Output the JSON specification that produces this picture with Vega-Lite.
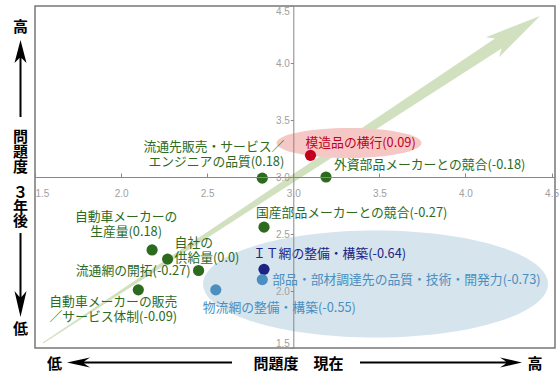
{
  "$schema": "https://vega.github.io/schema/vega-lite/v6.json",
  "width": 520,
  "height": 342,
  "autosize": {"type": "none"},
  "padding": {"left": 35, "top": 6, "right": 5, "bottom": 32},
  "background": "white",
  "config": {
    "view": {"stroke": "#777", "strokeWidth": 1.5},
    "text": {"font": "Noto Sans CJK JP", "fontSize": 12.8, "lineHeight": 15, "baseline": "middle", "lineBreak": "\n"}
  },
  "datasets": {
    "items": [
      {"item": "流通先販売・サービス／エンジニアの品質", "label": "流通先販売・サービス／\nエンジニアの品質(0.18)", "change": 0.18, "now": 2.82, "future": 2.99, "type": "市場"},
      {"item": "模造品の横行", "label": "模造品の横行(0.09)", "change": 0.09, "now": 3.10, "future": 3.19, "type": "模造品"},
      {"item": "外資部品メーカーとの競合", "label": "外資部品メーカーとの競合(-0.18)", "change": -0.18, "now": 3.19, "future": 3.00, "type": "市場"},
      {"item": "国産部品メーカーとの競合", "label": "国産部品メーカーとの競合(-0.27)", "change": -0.27, "now": 2.83, "future": 2.56, "type": "市場"},
      {"item": "ＩＴ網の整備・構築", "label": "ＩＴ網の整備・構築(-0.64)", "change": -0.64, "now": 2.83, "future": 2.19, "type": "IT"},
      {"item": "部品・部材調達先の品質・技術・開発力", "label": "部品・部材調達先の品質・技術・開発力(-0.73)", "change": -0.73, "now": 2.82, "future": 2.10, "type": "調達・物流"},
      {"item": "物流網の整備・構築", "label": "物流網の整備・構築(-0.55)", "change": -0.55, "now": 2.55, "future": 2.01, "type": "調達・物流"},
      {"item": "自動車メーカーの生産量", "label": "自動車メーカーの\n生産量(0.18)", "change": 0.18, "now": 2.18, "future": 2.36, "type": "市場"},
      {"item": "自社の供給量", "label": "自社の\n供給量(0.0)", "change": 0.0, "now": 2.27, "future": 2.28, "type": "市場"},
      {"item": "流通網の開拓", "label": "流通網の開拓(-0.27)", "change": -0.27, "now": 2.45, "future": 2.18, "type": "市場"},
      {"item": "自動車メーカーの販売／サービス体制", "label": "自動車メーカーの販売\n／サービス体制(-0.09)", "change": -0.09, "now": 2.10, "future": 2.01, "type": "市場"}
    ]
  },
  "data": {"name": "items"},
  "layer": [
    {
      "mark": {"type": "point", "filled": true, "size": 125, "opacity": 0},
      "encoding": {
        "x": {"field": "now", "type": "quantitative", "scale": {"domain": [1.5, 4.52], "nice": false, "zero": false},
          "axis": {"title": null, "offset": -171, "values": [1.5, 2, 2.5, 3, 3.5, 4, 4.5], "format": ".1f", "tickSize": -4, "tickColor": "#888", "domainColor": "#888", "labelColor": "#a0a0a0", "labelFontSize": 10, "labelFont": "Liberation Sans", "labelPadding": 15, "labelFlush": true, "labelOverlap": false, "grid": false, "zindex": 1}},
        "y": {"field": "future", "type": "quantitative", "scale": {"domain": [1.5, 4.5], "nice": false, "zero": false},
          "axis": {"title": null, "orient": "left", "offset": -258.3, "values": [1.5, 2, 2.5, 3, 3.5, 4, 4.5], "format": ".1f", "tickSize": 3, "tickColor": "#888", "domainColor": "#888", "labelColor": "#a0a0a0", "labelFontSize": 10, "labelFont": "Liberation Sans", "labelAlign": "right", "labelPadding": 1, "labelFlush": true, "labelOverlap": false, "grid": false, "zindex": 1}}
      }
    },
    {
      "data": {"values": [{}]},
      "mark": {"type": "point", "shape": "M-1,-0.0017L0.832,-0.0202L0.8084,-0.0403L1,0L0.8084,0.0403L0.832,0.0202L-1,0.0017Z", "size": 354025, "angle": 326.66, "filled": true, "fill": "#d1e1c0", "opacity": 1, "strokeWidth": 0},
      "encoding": {
        "x": {"datum": 2.9897, "type": "quantitative"},
        "y": {"datum": 2.9781, "type": "quantitative"}
      }
    },
    {
      "data": {"values": [{}]},
      "mark": {"type": "point", "shape": "M-1,0A1,0.207,0,1,0,1,0A1,0.207,0,1,0,-1,0Z", "size": 21025, "filled": true, "fill": "#f5c8c6", "opacity": 1, "strokeWidth": 0},
      "encoding": {
        "x": {"datum": 3.3236, "type": "quantitative"},
        "y": {"datum": 3.2982, "type": "quantitative"}
      }
    },
    {
      "data": {"values": [{}]},
      "mark": {"type": "point", "shape": "M-1,0A1,0.31,0,1,0,1,0A1,0.31,0,1,0,-1,0Z", "size": 119025, "filled": true, "fill": "#d6e4ed", "opacity": 1, "strokeWidth": 0},
      "encoding": {
        "x": {"datum": 3.4775, "type": "quantitative"},
        "y": {"datum": 2.0614, "type": "quantitative"}
      }
    },
    {
      "transform": [{"filter": {"field": "item", "equal": "流通先販売・サービス／エンジニアの品質"}}],
      "mark": {"type": "text", "align": "right", "dx": 22, "dy": -31.5},
      "encoding": {
        "x": {"field": "now", "type": "quantitative"},
        "y": {"field": "future", "type": "quantitative"},
        "text": {"field": "label"},
        "color": {"field": "type", "type": "nominal", "legend": null}
      }
    },
    {
      "transform": [{"filter": {"field": "item", "equal": "模造品の横行"}}],
      "mark": {"type": "text", "align": "left", "dx": -5, "dy": -12},
      "encoding": {
        "x": {"field": "now", "type": "quantitative"},
        "y": {"field": "future", "type": "quantitative"},
        "text": {"field": "label"},
        "color": {"field": "type", "type": "nominal", "legend": null}
      }
    },
    {
      "transform": [{"filter": {"field": "item", "equal": "外資部品メーカーとの競合"}}],
      "mark": {"type": "text", "align": "left", "dx": 8, "dy": -12},
      "encoding": {
        "x": {"field": "now", "type": "quantitative"},
        "y": {"field": "future", "type": "quantitative"},
        "text": {"field": "label"},
        "color": {"field": "type", "type": "nominal", "legend": null}
      }
    },
    {
      "transform": [{"filter": {"field": "item", "equal": "国産部品メーカーとの競合"}}],
      "mark": {"type": "text", "align": "left", "dx": -8, "dy": -14},
      "encoding": {
        "x": {"field": "now", "type": "quantitative"},
        "y": {"field": "future", "type": "quantitative"},
        "text": {"field": "label"},
        "color": {"field": "type", "type": "nominal", "legend": null}
      }
    },
    {
      "transform": [{"filter": {"field": "item", "equal": "ＩＴ網の整備・構築"}}],
      "mark": {"type": "text", "align": "left", "dx": -11, "dy": -15},
      "encoding": {
        "x": {"field": "now", "type": "quantitative"},
        "y": {"field": "future", "type": "quantitative"},
        "text": {"field": "label"},
        "color": {"field": "type", "type": "nominal", "legend": null}
      }
    },
    {
      "transform": [{"filter": {"field": "item", "equal": "部品・部材調達先の品質・技術・開発力"}}],
      "mark": {"type": "text", "align": "left", "dx": 10, "dy": 0},
      "encoding": {
        "x": {"field": "now", "type": "quantitative"},
        "y": {"field": "future", "type": "quantitative"},
        "text": {"field": "label"},
        "color": {"field": "type", "type": "nominal", "legend": null}
      }
    },
    {
      "transform": [{"filter": {"field": "item", "equal": "物流網の整備・構築"}}],
      "mark": {"type": "text", "align": "left", "dx": -13, "dy": 18},
      "encoding": {
        "x": {"field": "now", "type": "quantitative"},
        "y": {"field": "future", "type": "quantitative"},
        "text": {"field": "label"},
        "color": {"field": "type", "type": "nominal", "legend": null}
      }
    },
    {
      "transform": [{"filter": {"field": "item", "equal": "自動車メーカーの生産量"}}],
      "mark": {"type": "text", "align": "center", "dx": -26, "dy": -32.5},
      "encoding": {
        "x": {"field": "now", "type": "quantitative"},
        "y": {"field": "future", "type": "quantitative"},
        "text": {"field": "label"},
        "color": {"field": "type", "type": "nominal", "legend": null}
      }
    },
    {
      "transform": [{"filter": {"field": "item", "equal": "自社の供給量"}}],
      "mark": {"type": "text", "align": "left", "dx": 7, "dy": -16.5},
      "encoding": {
        "x": {"field": "now", "type": "quantitative"},
        "y": {"field": "future", "type": "quantitative"},
        "text": {"field": "label"},
        "color": {"field": "type", "type": "nominal", "legend": null}
      }
    },
    {
      "transform": [{"filter": {"field": "item", "equal": "流通網の開拓"}}],
      "mark": {"type": "text", "align": "right", "dx": -8, "dy": 1},
      "encoding": {
        "x": {"field": "now", "type": "quantitative"},
        "y": {"field": "future", "type": "quantitative"},
        "text": {"field": "label"},
        "color": {"field": "type", "type": "nominal", "legend": null}
      }
    },
    {
      "transform": [{"filter": {"field": "item", "equal": "自動車メーカーの販売／サービス体制"}}],
      "mark": {"type": "text", "align": "center", "dx": -25, "dy": 12.5},
      "encoding": {
        "x": {"field": "now", "type": "quantitative"},
        "y": {"field": "future", "type": "quantitative"},
        "text": {"field": "label"},
        "color": {"field": "type", "type": "nominal", "legend": null}
      }
    },
    {
      "mark": {"type": "point", "filled": true, "size": 125, "opacity": 1},
      "encoding": {
        "x": {"field": "now", "type": "quantitative"},
        "y": {"field": "future", "type": "quantitative"},
        "color": {"field": "type", "type": "nominal", "scale": {"domain": ["市場", "模造品", "IT", "調達・物流"], "range": ["#2c6b1e", "#c2001c", "#1b2385", "#4a8fbf"]}, "legend": null},
        "tooltip": [{"field": "item"}, {"field": "change"}]
      }
    },
    {
      "data": {"values": [{}]},
      "mark": {"type": "text", "text": "高", "fontSize": 15, "fontWeight": "bold", "color": "#000", "align": "center"},
      "encoding": {
        "x": {"datum": 1.4158, "type": "quantitative"},
        "y": {"datum": 4.3158, "type": "quantitative"}
      }
    },
    {
      "data": {"values": [{}]},
      "mark": {"type": "text", "text": ["問", "題", "度"], "fontSize": 15, "lineHeight": 15, "fontWeight": "bold", "color": "#000", "align": "center"},
      "encoding": {
        "x": {"datum": 1.4158, "type": "quantitative"},
        "y": {"datum": 3.3509, "type": "quantitative"}
      }
    },
    {
      "data": {"values": [{}]},
      "mark": {"type": "text", "text": ["３", "年", "後"], "fontSize": 15, "lineHeight": 14, "fontWeight": "bold", "color": "#000", "align": "center"},
      "encoding": {
        "x": {"datum": 1.4158, "type": "quantitative"},
        "y": {"datum": 2.8596, "type": "quantitative"}
      }
    },
    {
      "data": {"values": [{}]},
      "mark": {"type": "text", "text": "低", "fontSize": 15, "fontWeight": "bold", "color": "#000", "align": "center"},
      "encoding": {
        "x": {"datum": 1.4158, "type": "quantitative"},
        "y": {"datum": 1.6667, "type": "quantitative"}
      }
    },
    {
      "data": {"values": [{}]},
      "mark": {"type": "text", "text": "低", "fontSize": 15, "fontWeight": "bold", "color": "#000", "align": "center"},
      "encoding": {
        "x": {"datum": 1.6133, "type": "quantitative"},
        "y": {"datum": 1.3596, "type": "quantitative"}
      }
    },
    {
      "data": {"values": [{}]},
      "mark": {"type": "text", "text": "問題度　現在", "fontSize": 15, "fontWeight": "bold", "color": "#000", "align": "center"},
      "encoding": {
        "x": {"datum": 3.0303, "type": "quantitative"},
        "y": {"datum": 1.3596, "type": "quantitative"}
      }
    },
    {
      "data": {"values": [{}]},
      "mark": {"type": "text", "text": "高", "fontSize": 15, "fontWeight": "bold", "color": "#000", "align": "center"},
      "encoding": {
        "x": {"datum": 4.4039, "type": "quantitative"},
        "y": {"datum": 1.3596, "type": "quantitative"}
      }
    },
    {
      "data": {"values": [{}]},
      "mark": {"type": "point", "shape": "M-1,-0.026L0.5325,-0.026L0.4026,-0.156L1,0L0.4026,0.156L0.5325,0.026L-1,0.026Z", "size": 5929, "angle": 270, "filled": true, "fill": "#000", "opacity": 1, "strokeWidth": 0},
      "encoding": {
        "x": {"datum": 1.4158, "type": "quantitative"},
        "y": {"datum": 3.864, "type": "quantitative"}
      }
    },
    {
      "data": {"values": [{}]},
      "mark": {"type": "point", "shape": "M-1,-0.0238L0.524,-0.0238L0.381,-0.143L1,0L0.381,0.143L0.524,0.0238L-1,0.0238Z", "size": 7056, "angle": 90, "filled": true, "fill": "#000", "opacity": 1, "strokeWidth": 0},
      "encoding": {
        "x": {"datum": 1.4158, "type": "quantitative"},
        "y": {"datum": 2.1404, "type": "quantitative"}
      }
    },
    {
      "data": {"values": [{}]},
      "mark": {"type": "point", "shape": "M-1,-0.0121L0.794,-0.0121L0.7212,-0.0606L1,0L0.7212,0.0606L0.794,0.0121L-1,0.0121Z", "size": 27225, "angle": 180, "filled": true, "fill": "#000", "opacity": 1, "strokeWidth": 0},
      "encoding": {
        "x": {"datum": 2.165, "type": "quantitative"},
        "y": {"datum": 1.3728, "type": "quantitative"}
      }
    },
    {
      "data": {"values": [{}]},
      "mark": {"type": "point", "shape": "M-1,-0.0123L0.8025,-0.0123L0.7284,-0.0617L1,0L0.7284,0.0617L0.8025,0.0123L-1,0.0123Z", "size": 26244, "angle": 0, "filled": true, "fill": "#000", "opacity": 1, "strokeWidth": 0},
      "encoding": {
        "x": {"datum": 3.858, "type": "quantitative"},
        "y": {"datum": 1.3728, "type": "quantitative"}
      }
    }
  ]
}
